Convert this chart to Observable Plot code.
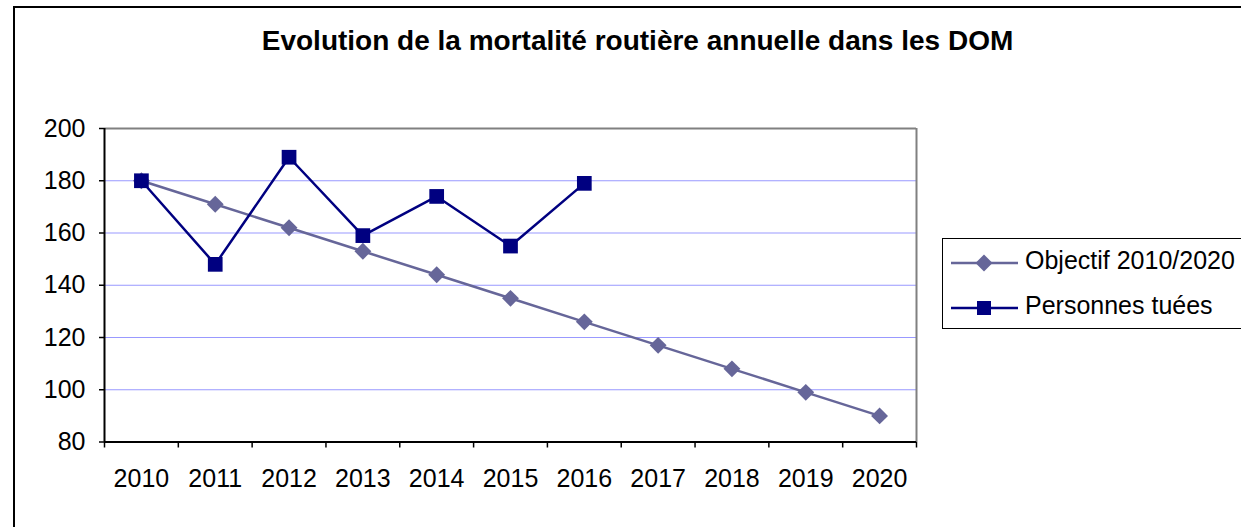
<!DOCTYPE html>
<html>
<head>
<meta charset="utf-8">
<script src="https://cdn.jsdelivr.net/npm/d3@7"></script>
<script src="https://cdn.jsdelivr.net/npm/@observablehq/plot@0.6"></script>
<style>
  html, body { margin: 0; padding: 0; background: #fff; }
  #wrap { position: relative; width: 1241px; height: 527px; overflow: hidden; font-family: "Liberation Sans", Arial, sans-serif; }
  #frame { position: absolute; left: 13px; top: 6px; width: 1300px; height: 600px; border: 2px solid #000; box-sizing: border-box; }
  #title { position: absolute; left: 0; top: 27px; width: 1275px; text-align: center; font-weight: bold; font-size: 28px; line-height: 28px; color: #000; }
  #chart { position: absolute; left: 0; top: 0; }
  #legend { position: absolute; left: 942px; top: 238px; width: 400px; height: 91px; border: 1.5px solid #000; box-sizing: border-box; background: #fff; }
  .lg { position: absolute; font-size: 25px; line-height: 25px; color: #000; white-space: nowrap; }
  .sw { position: absolute; }
</style>
</head>
<body>
<div id="wrap">
  <div id="frame"></div>
  <div id="title">Evolution de la mortalité routière annuelle dans les DOM</div>
  <div id="chart"></div>
  <div id="legend"></div>
</div>
<script>
// ---- data ----
const years = [2010, 2011, 2012, 2013, 2014, 2015, 2016, 2017, 2018, 2019, 2020];
const objectif = [180, 171, 162, 153, 144, 135, 126, 117, 108, 99, 90];
const tueesYears = [2010, 2011, 2012, 2013, 2014, 2015, 2016];
const tuees = [180, 148, 189, 159, 174, 155, 179];
const yTicks = [80, 100, 120, 140, 160, 180, 200];
const seriesNames = ["Objectif 2010/2020", "Personnes tuées"];
const colors = {obj: "#666699", tue: "#000080"};

const objData = years.map((y, i) => ({year: y, value: objectif[i]}));
const tueData = tueesYears.map((y, i) => ({year: y, value: tuees[i]}));
const bounds = years.map(y => y - 0.5).concat([years[years.length - 1] + 0.5]);
const xDomain = [bounds[0], bounds[bounds.length - 1]];
const yDomain = [yTicks[0], yTicks[yTicks.length - 1]];

const font = "Liberation Sans, Arial, sans-serif";

const chart = Plot.plot({
  width: 1241,
  height: 527,
  marginLeft: 104,
  marginRight: 325,
  marginTop: 128,
  marginBottom: 85.5,
  style: {fontFamily: font, fontSize: "25px", background: "transparent", color: "#000", overflow: "visible"},
  x: {type: "linear", domain: xDomain},
  y: {type: "linear", domain: yDomain},
  marks: [
    // gridlines
    Plot.ruleY(yTicks.slice(1, -1), {stroke: "#9999ff", strokeWidth: 1.2}),
    // frame: top & right grey
    Plot.ruleY([yDomain[1]], {stroke: "#808080", strokeWidth: 2}),
    Plot.ruleX([xDomain[1]], {stroke: "#808080", strokeWidth: 2}),
    // axes lines
    Plot.ruleX([xDomain[0]], {stroke: "#000", strokeWidth: 2}),
    Plot.ruleY([yDomain[0]], {stroke: "#000", strokeWidth: 2}),
    // y axis
    Plot.axisY({ticks: yTicks, tickSize: 5, tickPadding: 14, fontSize: 25, label: null, stroke: "#000", strokeWidth: 1.5}),
    // x axis boundary ticks
    Plot.axisX({ticks: bounds, tickSize: 6, tickFormat: () => "", label: null, stroke: "#000", strokeWidth: 1.5}),
    // x labels
    Plot.axisX({ticks: years, tickSize: 0, tickPadding: 27, fontSize: 25, tickFormat: d => String(d), label: null}),
    // Objectif series
    Plot.line(objData, {x: "year", y: "value", stroke: colors.obj, strokeWidth: 2.5}),
    Plot.dot(objData, {x: "year", y: "value", symbol: "diamond2", r: 7.6, fill: colors.obj, stroke: "none"}),
    // Personnes tuées series
    Plot.line(tueData, {x: "year", y: "value", stroke: colors.tue, strokeWidth: 2.5}),
    Plot.dot(tueData, {x: "year", y: "value", symbol: "square", r: 8.3, fill: colors.tue, stroke: "none"})
  ]
});
document.getElementById("chart").appendChild(chart);

// ---- legend ----
const legend = document.getElementById("legend");
const lgItems = [
  {name: seriesNames[0], color: colors.obj, shape: "diamond", cy: 262},
  {name: seriesNames[1], color: colors.tue, shape: "square", cy: 307}
];
const lx = 942, ly = 238;
lgItems.forEach(it => {
  const ns = "http://www.w3.org/2000/svg";
  const svg = document.createElementNS(ns, "svg");
  svg.setAttribute("width", 70);
  svg.setAttribute("height", 20);
  svg.setAttribute("class", "sw");
  svg.style.left = (950 - lx) + "px";
  svg.style.top = (it.cy - 10 - ly) + "px";
  const line = document.createElementNS(ns, "line");
  line.setAttribute("x1", 0); line.setAttribute("x2", 67);
  line.setAttribute("y1", 10); line.setAttribute("y2", 10);
  line.setAttribute("stroke", it.color); line.setAttribute("stroke-width", 2.5);
  svg.appendChild(line);
  if (it.shape === "diamond") {
    const p = document.createElementNS(ns, "polygon");
    p.setAttribute("points", "33,1.5 41.5,10 33,18.5 24.5,10");
    p.setAttribute("fill", it.color);
    svg.appendChild(p);
  } else {
    const r = document.createElementNS(ns, "rect");
    r.setAttribute("x", 26); r.setAttribute("y", 3);
    r.setAttribute("width", 14); r.setAttribute("height", 14);
    r.setAttribute("fill", it.color);
    svg.appendChild(r);
  }
  legend.appendChild(svg);
  const t = document.createElement("div");
  t.className = "lg";
  t.textContent = it.name;
  t.style.left = (1024 - lx) + "px";
  t.style.top = (it.cy - 15 - ly) + "px";
  legend.appendChild(t);
});
</script>
</body>
</html>
